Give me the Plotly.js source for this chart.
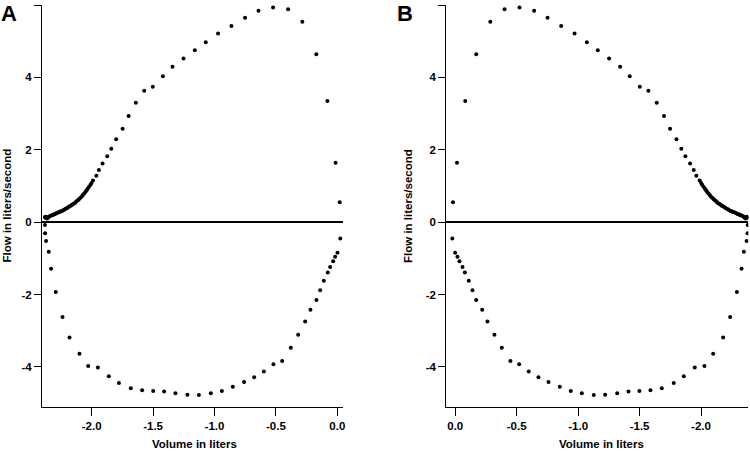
<!DOCTYPE html>
<html>
<head>
<meta charset="utf-8">
<script src="https://cdn.plot.ly/plotly-3.0.1.min.js"></script>
<style>
  html, body { margin: 0; padding: 0; background: #fff; }
  #chart { width: 750px; height: 451px; }
</style>
</head>
<body>
<div id="chart"></div>
<script>
// Expiratory limb (positive flow)
const expVolume = [0.019, -0.014, -0.081, -0.171, -0.285, -0.401, -0.523, -0.642, -0.751, -0.862,
  -0.971, -1.071, -1.160, -1.252, -1.342, -1.420, -1.502, -1.572, -1.640, -1.699,
  -1.748, -1.800, -1.840, -1.873, -1.911, -1.941, -1.962, -1.989,
  -2.001, -2.009, -2.021, -2.032, -2.041, -2.049, -2.061, -2.072, -2.080, -2.091,
  -2.102, -2.109, -2.121, -2.131, -2.139, -2.151, -2.162, -2.170, -2.181, -2.192,
  -2.199, -2.211, -2.222, -2.230, -2.241, -2.252, -2.259, -2.271, -2.282, -2.290,
  -2.301, -2.312, -2.319, -2.331, -2.342, -2.350, -2.356, -2.362, -2.368, -2.373,
  -2.377, -2.380];
const expFlow = [0.55, 1.64, 3.35, 4.64, 5.54, 5.88, 5.93, 5.84, 5.65, 5.42,
  5.21, 4.97, 4.75, 4.52, 4.29, 4.03, 3.74, 3.63, 3.30, 2.93,
  2.58, 2.29, 2.03, 1.82, 1.62, 1.44, 1.28, 1.15,
  1.08, 1.03, 0.98, 0.92, 0.88, 0.84, 0.79, 0.75, 0.71, 0.67,
  0.64, 0.61, 0.58, 0.55, 0.52, 0.50, 0.47, 0.45, 0.43, 0.41,
  0.39, 0.37, 0.35, 0.33, 0.31, 0.30, 0.28, 0.27, 0.25, 0.24,
  0.22, 0.21, 0.19, 0.18, 0.16, 0.14, 0.12, 0.10, 0.13, 0.15,
  0.12, 0.14];

// Inspiratory limb (negative flow)
const inspVolume = [-2.380, -2.379, -2.371, -2.349, -2.330, -2.292, -2.237, -2.180, -2.099, -2.028,
  -1.949, -1.860, -1.778, -1.681, -1.589, -1.499, -1.410, -1.318, -1.220, -1.127,
  -1.030, -0.940, -0.851, -0.759, -0.677, -0.598, -0.520, -0.449, -0.379, -0.319,
  -0.262, -0.219, -0.170, -0.140, -0.110, -0.078, -0.059, -0.034, -0.018, 0.001,
  0.024];
const inspFlow = [-0.08, -0.31, -0.52, -0.82, -1.29, -1.93, -2.62, -3.19, -3.64, -3.98,
  -4.02, -4.26, -4.45, -4.59, -4.65, -4.67, -4.68, -4.73, -4.77, -4.78,
  -4.73, -4.67, -4.55, -4.42, -4.29, -4.13, -3.93, -3.84, -3.47, -3.11,
  -2.75, -2.42, -2.15, -1.88, -1.62, -1.39, -1.24, -1.08, -0.96, -0.85,
  -0.45];

// Tick labels (plain hyphen like the original)
const volumeTicks = [-2.0, -1.5, -1.0, -0.5, 0.0];
const volumeTickText = ['-2.0', '-1.5', '-1.0', '-0.5', '0.0'];
const flowTicks = [-4, -2, 0, 2, 4, 6];
const flowTickText = ['-4', '-2', '0', '2', '4', '6'];

const fontFamily = 'Liberation Sans, Arial, sans-serif';
const bold = s => '<b>' + s + '</b>';

function dots(xa, ya) {
  return {
    x: expVolume.concat(inspVolume),
    y: expFlow.concat(inspFlow),
    type: 'scatter',
    mode: 'markers',
    marker: { color: '#000', size: 4 },
    xaxis: xa,
    yaxis: ya,
    hoverinfo: 'skip',
    showlegend: false
  };
}

const data = [dots('x', 'y'), dots('x2', 'y2')];

const xCommon = {
  showline: true, linecolor: '#000', linewidth: 1,
  ticks: 'outside', ticklen: 8, tickwidth: 1, tickcolor: '#000',
  tickvals: volumeTicks, ticktext: volumeTickText.map(bold),
  showgrid: false, zeroline: false,
  tickfont: { family: fontFamily, size: 11.5, color: '#000' }
};
const yCommon = {
  range: [-5.11, 6],
  domain: [1 - 407 / 451, 1 - 5 / 451],
  showline: true, linecolor: '#000', linewidth: 1,
  ticks: 'outside', ticklen: 7, tickwidth: 1, tickcolor: '#000',
  tickvals: flowTicks, ticktext: flowTickText.map(bold),
  showgrid: false,
  zeroline: true, zerolinecolor: '#000', zerolinewidth: 2,
  tickfont: { family: fontFamily, size: 11.5, color: '#000' }
};

const titleFont = { family: fontFamily, size: 11.5, color: '#000' };
const letterFont = { family: fontFamily, size: 22, color: '#000' };

const layout = {
  width: 750,
  height: 451,
  margin: { l: 0, r: 0, t: 0, b: 0 },
  paper_bgcolor: '#fff',
  plot_bgcolor: '#fff',
  xaxis: Object.assign({}, xCommon, { domain: [42 / 750, 343 / 750], range: [-2.404, 0.046], anchor: 'y' }),
  yaxis: Object.assign({}, yCommon, { anchor: 'x' }),
  xaxis2: Object.assign({}, xCommon, { domain: [446.3 / 750, 748.3 / 750], range: [0.073, -2.385], anchor: 'y2' }),
  yaxis2: Object.assign({}, yCommon, { anchor: 'x2' }),
  annotations: [
    { text: bold('A'), xref: 'paper', yref: 'paper', x: -1 / 750, y: 1 + 1 / 451, xanchor: 'left', yanchor: 'top', showarrow: false, font: letterFont },
    { text: bold('B'), xref: 'paper', yref: 'paper', x: 395 / 750, y: 1 + 1 / 451, xanchor: 'left', yanchor: 'top', showarrow: false, font: letterFont },
    { text: bold('Flow in liters/second'), xref: 'paper', yref: 'paper', x: 6.5 / 750, y: 1 - 206 / 451, xanchor: 'center', yanchor: 'middle', textangle: -90, showarrow: false, font: titleFont },
    { text: bold('Flow in liters/second'), xref: 'paper', yref: 'paper', x: 408 / 750, y: 1 - 206 / 451, xanchor: 'center', yanchor: 'middle', textangle: -90, showarrow: false, font: titleFont },
    { text: bold('Volume in liters'), xref: 'paper', yref: 'paper', x: 194 / 750, y: -1 / 451, xanchor: 'center', yanchor: 'bottom', showarrow: false, font: titleFont },
    { text: bold('Volume in liters'), xref: 'paper', yref: 'paper', x: 601 / 750, y: -1 / 451, xanchor: 'center', yanchor: 'bottom', showarrow: false, font: titleFont }
  ]
};

Plotly.newPlot('chart', data, layout, { displayModeBar: false, staticPlot: true });
</script>
</body>
</html>
